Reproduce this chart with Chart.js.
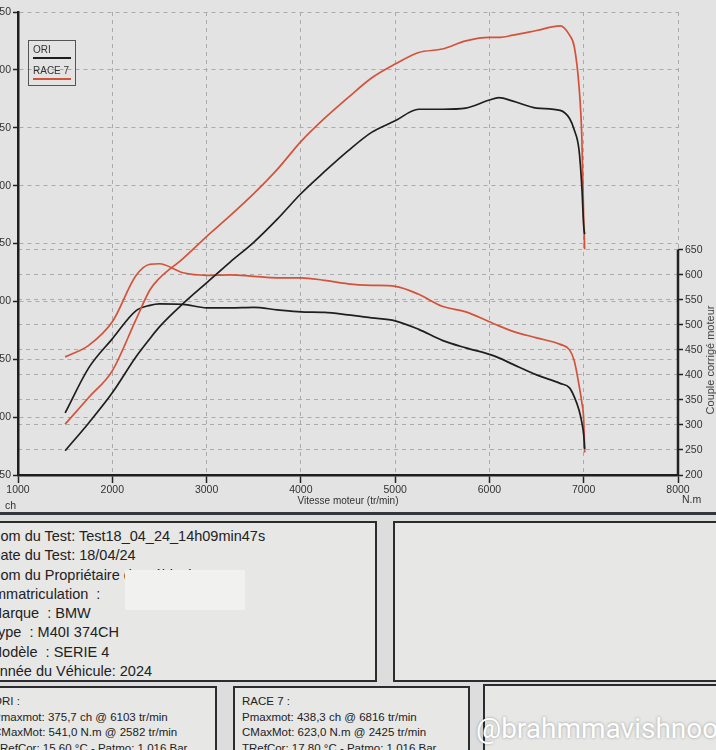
<!DOCTYPE html>
<html>
<head>
<meta charset="utf-8">
<script src="https://cdn.jsdelivr.net/npm/chart.js@4.4.1/dist/chart.umd.min.js"></script>
<style>
  html, body { margin:0; padding:0; }
  body { width:716px; height:750px; overflow:hidden; position:relative; background:#dcdddc; font-family:"Liberation Sans", Arial, sans-serif; color:#222; }
  #panel { position:absolute; left:0; top:0; width:716px; height:513px; background:#e2e3e2; }
  #cv { position:absolute; left:-40px; top:0; }
  #panelBorder { position:absolute; left:0; top:512px; width:716px; height:3px; background:#33363d; }
  .box { position:absolute; border:2px solid #2b2c30; background:#e7e7e6; overflow:hidden; box-sizing:border-box; }
  .legend { position:absolute; left:28px; top:40px; width:48px; height:46px; border:1px solid #555; box-sizing:border-box; font-size:10px; color:#333; }
  .legend .item { position:absolute; left:4px; }
  .legend .ln { position:absolute; left:4px; width:38px; height:2px; }
  .lbl { position:absolute; font-size:10.5px; color:#333; white-space:nowrap; }
  #info { left:-12px; top:521px; width:389px; height:161px; font-size:14.5px; line-height:19.3px; padding:4px 0 0 0; }
  #info div { padding-left:0; white-space:nowrap; }
  .small { font-size:11.5px; line-height:15.5px; white-space:nowrap; }
  #wm { position:absolute; left:476px; top:712px; font-family:Roboto, "Open Sans", sans-serif; font-size:28px; color:#ffffff; text-shadow:0 0 3px rgba(0,0,0,0.35); white-space:nowrap; }
</style>
</head>
<body>
<div id="panel"></div>
<canvas id="cv" width="760" height="512"></canvas>
<div class="legend">
  <div class="item" style="top:3px;">ORI</div>
  <div class="ln" style="top:16px; background:#1e1e1e;"></div>
  <div class="item" style="top:24px;">RACE 7</div>
  <div class="ln" style="top:37px; background:#d4523a;"></div>
</div>
<div class="lbl" style="left:5px; top:499px;">ch</div>
<div class="lbl" style="left:682px; top:493px;">N.m</div>
<div class="lbl" style="left:710px; top:360px; transform:translate(-50%,-50%) rotate(-90deg); font-size:11px; color:#444;">Couple corrigé moteur</div>
<div id="panelBorder"></div>

<div id="info" class="box">
  <div>Nom du Test: Test18_04_24_14h09min47s</div>
  <div>Date du Test: 18/04/24</div>
  <div>Nom du Propriétaire du Véhicule:</div>
  <div>Immatriculation&nbsp; :</div>
  <div>Marque&nbsp; : BMW</div>
  <div>Type&nbsp; : M40I 374CH</div>
  <div>Modèle&nbsp; : SERIE 4</div>
  <div>Année du Véhicule: 2024</div>
</div>
<div style="position:absolute; left:125px; top:570px; width:120px; height:40px; background:#f1f1f0;"></div>
<div class="box" style="left:393px; top:521px; width:330px; height:161px;"></div>

<div class="box small" style="left:-12px; top:686px; width:229px; height:80px; padding:6px 0 0 3px;">
  <div>ORI :</div>
  <div>Pmaxmot: 375,7 ch @ 6103 tr/min</div>
  <div>CMaxMot: 541,0 N.m @ 2582 tr/min</div>
  <div>TRefCor: 15,60 °C - Patmo: 1,016 Bar</div>
</div>
<div class="box small" style="left:233px; top:686px; width:237px; height:80px; padding:6px 0 0 7px;">
  <div>RACE 7 :</div>
  <div>Pmaxmot: 438,3 ch @ 6816 tr/min</div>
  <div>CMaxMot: 623,0 N.m @ 2425 tr/min</div>
  <div>TRefCor: 17,80 °C - Patmo: 1,016 Bar</div>
</div>
<div class="box" style="left:483px; top:684px; width:240px; height:80px;"></div>
<div id="wm">@brahmmavishnoo</div>

<script>
// Engine speed (tr/min) sampled along the curves
const rpm = [1500,1750,2000,2250,2400,2500,2750,3000,3250,3500,3750,4000,4250,4500,4750,5000,5250,5500,5750,6000,6100,6250,6500,6750,6850,6900,6950,6980,7000,7010];
// Power (ch)
const powerORI   = [71,95,121,152,168,178,198,216,234,251,271,293,312,330,346,356,366,366,367,374,376,373,367,365,358,348,331,299,265,258];
const powerRACE7 = [94,117,140,184,210,220,237,256,274,293,314,338,358,376,393,405,415,418,425,428,428,430,434,438,430,420,386,342,270,245];
// Torque (N.m)
const torqueORI   = [324,414,472,528,539,542,541,534,534,535,530,526,525,520,514,508,491,469,454,441,434,421,400,383,374,356,330,305,280,252];
const torqueRACE7 = [436,459,506,598,621,622,604,599,600,597,594,594,589,582,579,577,561,537,526,506,498,487,474,461,450,428,380,345,310,245];
// Axis ticks
const xTicks = [1000,2000,3000,4000,5000,6000,7000,8000];
const powerTicks = [50,100,150,200,250,300,350,400,450];
const torqueTicks = [200,250,300,350,400,450,500,550,600,650];

const RED = '#d4523a', BLACK = '#1e1e1e', GRID = '#aaabad';
const pts = arr => rpm.map((r,i) => ({x:r, y:arr[i]}));

const rightAxisLine = {
  id:'rightAxisLine',
  afterDraw(chart){
    const {ctx, chartArea} = chart;
    const y2 = chart.scales.y2;
    ctx.save();
    ctx.strokeStyle = '#222'; ctx.lineWidth = 2.5;
    ctx.beginPath();
    ctx.moveTo(chartArea.right, y2.getPixelForValue(torqueTicks[torqueTicks.length-1]));
    ctx.lineTo(chartArea.right, chartArea.bottom + 1);
    ctx.stroke();
    ctx.restore();
  }
};

const ds = (label, data, color, axis) => ({
  label, data: pts(data), borderColor: color, backgroundColor: color,
  borderWidth: 1.7, pointRadius: 0, cubicInterpolationMode:'monotone', yAxisID: axis, fill:false
});

const tickFont = {size:10.5, family:'Liberation Sans'};

new Chart(document.getElementById('cv'), {
  type: 'line',
  data: {
    datasets: [
      ds('ORI', powerORI, BLACK, 'y'),
      ds('RACE 7', powerRACE7, RED, 'y'),
      ds('ORI couple', torqueORI, BLACK, 'y2'),
      ds('RACE 7 couple', torqueRACE7, RED, 'y2')
    ]
  },
  options: {
    responsive:false, animation:false,
    layout:{ padding:{ top:12, left:0, right:0, bottom:0 } },
    plugins:{ legend:{display:false}, tooltip:{enabled:false} },
    scales:{
      x:{
        type:'linear', min:xTicks[0], max:xTicks[xTicks.length-1],
        afterBuildTicks: s => { s.ticks = xTicks.map(v => ({value:v})); },
        afterFit: s => { s.height = 37; },
        ticks:{ font:tickFont, color:'#333', padding:1, maxRotation:0, callback: v => String(v) },
        grid:{ color: c => (c.tick && c.tick.value === 1000) ? 'transparent' : GRID, lineWidth:1, tickLength:8, tickColor:'#222', tickWidth:1.5 },
        border:{ color:'#1e1e1e', width:2.5, dash:[4,4] },
        title:{ display:true, text:'Vitesse moteur (tr/min)', font:{size:10, family:'Liberation Sans'}, color:'#333', padding:{top:0, bottom:5} }
      },
      y:{
        position:'left', min:powerTicks[0], max:powerTicks[powerTicks.length-1],
        afterBuildTicks: s => { s.ticks = powerTicks.map(v => ({value:v})); },
        afterFit: s => { s.width = 58; },
        ticks:{ font:tickFont, color:'#333', padding:2, callback: v => String(v) },
        grid:{ color: c => (c.tick && c.tick.value === 50) ? 'transparent' : GRID, lineWidth:1, tickLength:5, tickColor:'#222', tickWidth:1.5 },
        border:{ color:'#1e1e1e', width:2.5, dash:[4,4] }
      },
      y2:{
        position:'right', min:200, max:1125,
        afterBuildTicks: s => { s.ticks = torqueTicks.map(v => ({value:v})); },
        afterFit: s => { s.width = 42; },
        ticks:{ font:tickFont, color:'#333', padding:2, callback: v => String(v) },
        grid:{ color: c => (c.tick && c.tick.value > 200) ? GRID : 'transparent', lineWidth:1, tickLength:5, tickColor:'#222', tickWidth:1.5 },
        border:{ display:false, dash:[4,4] }
      }
    }
  },
  plugins:[rightAxisLine]
});
</script>
</body>
</html>
